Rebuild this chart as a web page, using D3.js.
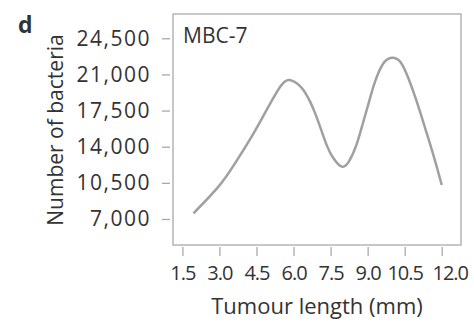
<!DOCTYPE html>
<html>
<head>
<meta charset="utf-8">
<script src="https://cdn.jsdelivr.net/npm/d3@7"></script>
<style>
  html, body { margin: 0; padding: 0; background: #fff; }
  svg text { font-family: "Open Sans", "Noto Sans", sans-serif; fill: #333; }
</style>
</head>
<body>
<div id="chart"></div>
<script>
// values
const lengths = [1.95, 2.96, 3.63, 4.31, 4.85, 5.12, 5.46, 5.79, 6.13, 6.40, 6.67, 6.88, 7.08, 7.35, 7.61, 7.95,
                 8.25, 8.55, 8.80, 9.05, 9.30, 9.64, 9.98, 10.32, 10.65, 10.99, 11.33, 11.66, 12.00];
const bacteria = [7550, 10130, 12390, 15000, 17300, 18450, 19800, 20460, 20140, 19490, 18360, 17200, 15900, 14100, 12900, 12070,
                  12600, 14200, 16200, 18300, 20300, 22080, 22620, 22230, 20630, 18360, 15780, 13200, 10290];
const xTicks = [1.5, 3.0, 4.5, 6.0, 7.5, 9.0, 10.5, 12.0];
const yTicks = [7000, 10500, 14000, 17500, 21000, 24500];
const seriesName = "MBC-7";

const width = 474, height = 326;
const box = { left: 173, right: 461, top: 14, bottom: 245 };

const svg = d3.select("#chart").append("svg")
  .attr("width", width)
  .attr("height", height);

const x = d3.scaleLinear().domain([1.12, 12.78]).range([box.left, box.right]);
const y = d3.scaleLinear().domain([4480, 26850]).range([box.bottom, box.top]);

// frame
svg.append("rect")
  .attr("x", box.left).attr("y", box.top)
  .attr("width", box.right - box.left).attr("height", box.bottom - box.top)
  .attr("fill", "none").attr("stroke", "#aaa").attr("stroke-width", 1.3);

// y axis (detached from the frame)
const yAxis = svg.append("g")
  .attr("transform", "translate(170,0)")
  .call(d3.axisLeft(y).tickValues(yTicks).tickFormat(d3.format(",")).tickSize(8).tickPadding(11));
yAxis.select(".domain").remove();
yAxis.selectAll(".tick line").attr("stroke", "#aaa").attr("stroke-width", 1.3);
yAxis.selectAll(".tick text")
  .style("font-size", "21px")
  .style("letter-spacing", "1.5px")
  .attr("fill", "#333");

// x axis
const xAxis = svg.append("g")
  .attr("transform", "translate(0,247)")
  .call(d3.axisBottom(x).tickValues(xTicks).tickFormat(d3.format(".1f")).tickSize(9).tickPadding(10));
xAxis.select(".domain").remove();
xAxis.selectAll(".tick line").attr("stroke", "#aaa").attr("stroke-width", 1.3);
xAxis.selectAll(".tick text")
  .style("font-size", "20px")
  .style("letter-spacing", "-1px")
  .attr("fill", "#333");
// last label sits a little right of its tick in the original
xAxis.selectAll(".tick text").filter(d => d === 12.0).attr("dx", 8);

// curve
const line = d3.line()
  .x((d, i) => x(lengths[i]))
  .y(d => y(d))
  .curve(d3.curveNatural);

svg.append("path")
  .datum(bacteria)
  .attr("d", line)
  .attr("fill", "none")
  .attr("stroke", "#a0a0a0")
  .attr("stroke-width", 2.5);

// titles
svg.append("text")
  .attr("x", 317).attr("y", 314)
  .attr("text-anchor", "middle")
  .style("font-size", "22px")
  .text("Tumour length (mm)");

svg.append("text")
  .attr("transform", "translate(63,130) rotate(-90)")
  .attr("text-anchor", "middle")
  .style("font-size", "21px")
  .text("Number of bacteria");

svg.append("text")
  .attr("x", 183).attr("y", 43)
  .style("font-size", "21px")
  .text(seriesName);

svg.append("text")
  .attr("x", 18).attr("y", 33)
  .style("font-size", "23px")
  .style("font-weight", "bold")
  .attr("fill", "#111")
  .text("d");
</script>
</body>
</html>
